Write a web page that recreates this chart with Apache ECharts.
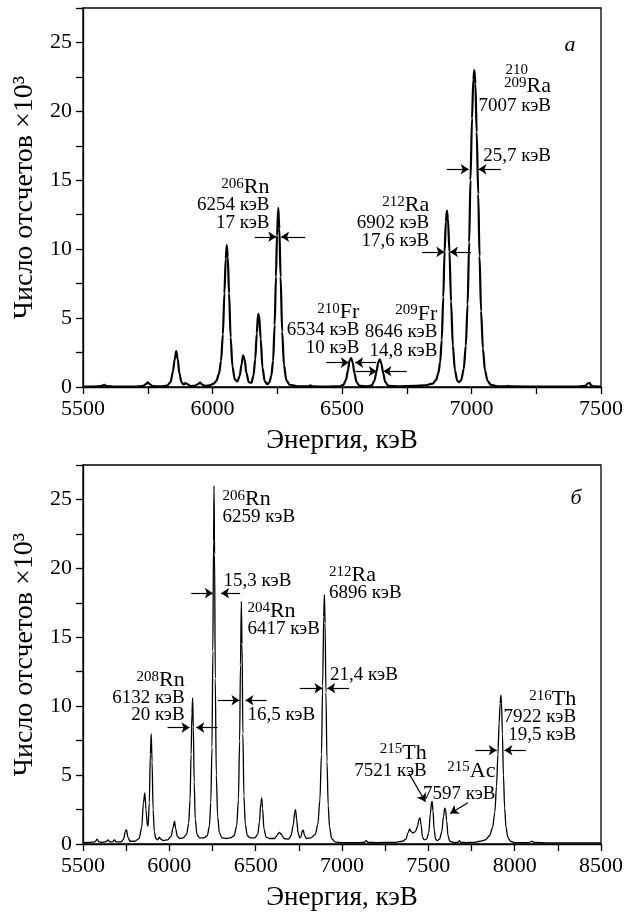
<!DOCTYPE html>
<html>
<head>
<meta charset="utf-8">
<script src="https://cdn.jsdelivr.net/npm/echarts@6/dist/echarts.min.js"></script>
<style>
  html, body { margin: 0; padding: 0; background: #fff; }
  #main { width: 626px; height: 916px; }
</style>
</head>
<body>
<div id="main"></div>
<script>
// спектр (а): энергия, кэВ / число отсчетов x10^3
const spectrumA = [
  [5500,0.03],[5560,0.04],[5572,0.08],[5582,0.15],[5592,0.06],[5620,0.03],[5700,0.03],[5730,0.06],
  [5742,0.2],[5750,0.33],[5758,0.2],[5770,0.06],[5800,0.04],[5825,0.1],[5838,0.35],[5847,1.1],
  [5854,2.0],[5860,2.6],[5866,2.0],[5872,1.0],[5880,0.35],[5888,0.18],[5896,0.28],[5904,0.2],
  [5915,0.07],[5930,0.08],[5943,0.2],[5952,0.32],[5960,0.18],[5972,0.08],[5990,0.12],[6005,0.25],
  [6015,0.45],[6025,0.95],[6033,1.9],[6040,3.8],[6046,6.8],[6051,9.3],[6055,10.3],[6059,9.4],
  [6064,6.8],[6070,3.6],[6077,1.5],[6086,0.55],[6096,0.4],[6105,0.8],[6112,1.6],[6118,2.3],
  [6124,2.0],[6131,1.0],[6140,0.35],[6150,0.3],[6158,0.8],[6165,2.0],[6171,3.9],[6176,5.3],
  [6180,5.2],[6186,3.5],[6193,1.4],[6202,0.4],[6212,0.2],[6220,0.35],[6227,0.8],[6234,1.9],
  [6240,4.5],[6245,8.0],[6249,11.0],[6254,13.0],[6258,11.5],[6263,8.0],[6269,4.0],[6276,1.6],
  [6285,0.5],[6298,0.15],[6330,0.05],[6370,0.04],[6378,0.12],[6386,0.04],[6450,0.03],[6490,0.05],
  [6505,0.15],[6515,0.5],[6523,1.2],[6529,1.9],[6535,2.1],[6541,1.8],[6548,1.0],[6556,0.35],
  [6568,0.08],[6600,0.05],[6615,0.12],[6625,0.45],[6633,1.1],[6640,1.8],[6646,2.0],[6652,1.7],
  [6659,1.0],[6667,0.35],[6680,0.08],[6720,0.05],[6780,0.08],[6820,0.12],[6850,0.25],[6863,0.5],
  [6872,1.0],[6879,1.8],[6885,3.4],[6891,6.5],[6896,9.8],[6901,12.0],[6905,12.8],[6909,12.2],
  [6915,9.8],[6921,6.2],[6928,3.0],[6936,1.2],[6945,0.45],[6952,0.35],[6960,0.5],[6970,1.3],
  [6978,3.0],[6985,6.0],[6991,10.5],[6996,15.0],[7002,19.5],[7007,22.3],[7011,23.0],[7015,22.0],
  [7020,18.5],[7026,14.0],[7031,9.5],[7037,5.5],[7044,2.8],[7052,1.2],[7062,0.45],[7075,0.15],
  [7100,0.05],[7135,0.04],[7142,0.08],[7150,0.04],[7300,0.03],[7400,0.03],[7440,0.08],[7448,0.25],
  [7455,0.3],[7462,0.12],[7470,0.04],[7500,0.03]
];

// спектр (б)
const spectrumB = [
  [5500,0.1],[5540,0.12],[5570,0.15],[5582,0.35],[5592,0.15],[5615,0.12],[5635,0.18],[5645,0.3],
  [5655,0.15],[5670,0.15],[5682,0.3],[5692,0.15],[5720,0.15],[5735,0.35],[5745,0.9],[5752,1.05],
  [5760,0.5],[5772,0.2],[5800,0.2],[5825,0.4],[5840,1.2],[5850,3.0],[5858,3.7],[5865,2.5],
  [5872,1.4],[5877,1.3],[5884,3.0],[5890,6.5],[5895,8.0],[5900,6.0],[5906,2.5],[5913,0.9],
  [5922,0.4],[5932,0.3],[5942,0.5],[5950,0.35],[5965,0.25],[5990,0.3],[6010,0.55],[6022,1.2],
  [6030,1.65],[6037,1.1],[6046,0.55],[6060,0.4],[6080,0.45],[6100,0.7],[6112,1.5],[6120,3.2],
  [6126,6.5],[6131,9.5],[6135,10.6],[6139,8.5],[6144,4.5],[6150,1.8],[6160,0.7],[6175,0.45],
  [6200,0.45],[6220,0.6],[6232,1.3],[6240,3.0],[6247,7.0],[6252,14.0],[6256,22.0],[6259,26.0],
  [6262,21.0],[6266,12.0],[6272,5.0],[6280,2.0],[6290,0.8],[6305,0.45],[6330,0.4],[6355,0.45],
  [6375,0.6],[6390,1.3],[6400,3.2],[6407,7.5],[6412,13.0],[6417,17.6],[6421,14.5],[6426,8.0],
  [6432,3.5],[6440,1.4],[6452,0.6],[6470,0.45],[6495,0.45],[6512,0.7],[6522,1.6],[6530,3.0],
  [6535,3.35],[6540,2.6],[6548,1.1],[6560,0.5],[6580,0.4],[6610,0.4],[6625,0.65],[6637,0.85],
  [6648,0.7],[6665,0.4],[6690,0.35],[6705,0.6],[6718,1.4],[6726,2.3],[6731,2.5],[6737,1.8],
  [6746,0.8],[6755,0.45],[6762,0.5],[6770,0.95],[6776,1.0],[6783,0.6],[6795,0.4],[6820,0.45],
  [6845,0.7],[6860,1.4],[6872,3.2],[6881,6.5],[6888,11.5],[6894,16.5],[6898,18.1],[6902,16.0],
  [6907,11.0],[6913,6.0],[6920,2.8],[6928,1.2],[6940,0.4],[6960,0.15],[7000,0.1],[7100,0.1],
  [7130,0.12],[7140,0.25],[7150,0.12],[7200,0.1],[7300,0.12],[7350,0.2],[7370,0.35],[7382,0.8],
  [7392,1.1],[7400,0.9],[7412,0.8],[7425,0.9],[7438,1.3],[7446,1.8],[7452,1.9],[7458,1.4],
  [7466,0.5],[7476,0.3],[7490,0.35],[7502,0.8],[7512,2.2],[7518,3.0],[7522,3.1],[7527,2.4],
  [7534,1.0],[7542,0.35],[7552,0.25],[7565,0.35],[7578,0.9],[7588,2.0],[7595,2.6],[7600,2.5],
  [7606,1.7],[7614,0.6],[7624,0.2],[7650,0.1],[7672,0.12],[7680,0.25],[7688,0.12],[7720,0.1],
  [7760,0.12],[7800,0.2],[7830,0.3],[7855,0.6],[7872,1.2],[7885,2.3],[7895,4.2],[7903,6.5],
  [7910,8.8],[7916,10.2],[7920,10.8],[7924,10.2],[7929,8.0],[7935,5.0],[7942,2.6],[7950,1.2],
  [7960,0.5],[7975,0.2],[8000,0.1],[8080,0.1],[8092,0.15],[8100,0.2],[8110,0.12],[8200,0.08],
  [8500,0.08]
];

// стрелки ширины на полувысоте: [x1, y1, x2, y2] (острие в конце)
const arrowsA = [
  [6163,10.9,6246,10.9],[6358,10.9,6265,10.9],
  [6809,9.8,6895,9.8],[6998,9.8,6917,9.8],
  [6904,15.8,6989,15.8],[7113,15.8,7027,15.8],
  [6439,1.77,6526,1.77],[6632,1.77,6551,1.77],
  [6551,1.14,6634,1.14],[6750,1.14,6660,1.14]
];
const arrowsB = [
  [5990,8.45,6117,8.45],[6279,8.45,6156,8.45],
  [6127,18.2,6252,18.2],[6410,18.2,6300,18.2],
  [6281,10.43,6406,10.43],[6563,10.43,6441,10.43],
  [6756,11.3,6887,11.3],[7041,11.3,6915,11.3],
  [7772,6.8,7896,6.8],[8064,6.8,7941,6.8],
  [7387,5.14,7483,3.07],[7729,2.99,7627,2.22]
];

// подписи: привязка [E, y], строки
const labelsA = [
  { at: [6220, 14.5], align: 'right', gap: 18, lines: ['{s|206}{e|Rn}', '6254 кэВ', '17 кэВ'] },
  { at: [6837, 13.2], align: 'right', gap: 18, lines: ['{s|212}{e|Ra}', '6902 кэВ', '17,6 кэВ'] },
  { at: [6567, 5.4], align: 'right', gap: 17.5, lines: ['{s|210}{e|Fr}', '6534 кэВ', '10 кэВ'] },
  { at: [6868, 5.3], align: 'right', gap: 18.5, lines: ['{s|209}{e|Fr}', '8646 кэВ', '14,8 кэВ'] },
  { at: [7307, 21.8], align: 'right', gap: 19.5, lines: ['{s|209}{e|Ra}', '7007 кэВ'] },
  { at: [7045, 16.75], align: 'left', gap: 18, lines: ['25,7 кэВ'] }
];
const labelsB = [
  { at: [6308, 25.0], align: 'left', gap: 17.5, lines: ['{s|206}{e|Rn}', '6259 кэВ'] },
  { at: [6314, 19.1], align: 'left', gap: 18, lines: ['15,3 кэВ'] },
  { at: [6452, 16.9], align: 'left', gap: 18, lines: ['{s|204}{e|Rn}', '6417 кэВ'] },
  { at: [6452, 9.35], align: 'left', gap: 18, lines: ['16,5 кэВ'] },
  { at: [6925, 19.5], align: 'left', gap: 17.5, lines: ['{s|212}{e|Ra}', '6896 кэВ'] },
  { at: [6931, 12.25], align: 'left', gap: 18, lines: ['21,4 кэВ'] },
  { at: [6089, 11.85], align: 'right', gap: 17, lines: ['{s|208}{e|Rn}', '6132 кэВ', '20 кэВ'] },
  { at: [7491, 6.6], align: 'right', gap: 17.5, lines: ['{s|215}{e|Th}', '7521 кэВ'] },
  { at: [7889, 5.3], align: 'right', gap: 23, lines: ['{s|215}{e|Ac}', '7597 кэВ'] },
  { at: [8356, 10.5], align: 'right', gap: 18, lines: ['{s|216}{e|Th}', '7922 кэВ', '19,5 кэВ'] }
];

const FONT = "'Liberation Serif', 'DejaVu Serif', serif";
const chart = echarts.init(document.getElementById('main'));

function xAxisCfg(grid, max) {
  return {
    type: 'value', gridIndex: grid, min: 5500, max: max, interval: 250,
    name: 'Энергия, кэВ', nameLocation: 'middle', nameGap: 40,
    nameTextStyle: { fontFamily: FONT, fontSize: 27, color: '#000' },
    axisLine: { onZero: false, lineStyle: { color: '#000', width: 1.3 } },
    axisTick: { length: 7, lineStyle: { color: '#000', width: 1.3 } },
    axisLabel: {
      fontFamily: FONT, fontSize: 22, color: '#000', margin: 11,
      formatter: v => (v % 500 === 0 ? String(v) : '')
    },
    splitLine: { show: false }
  };
}
function yAxisCfg(grid) {
  return {
    type: 'value', gridIndex: grid, min: 0, max: 27.5, interval: 2.5,
    name: 'Число отсчетов ×10³', nameLocation: 'middle', nameGap: 44,
    nameTextStyle: { fontFamily: FONT, fontSize: 28, color: '#000' },
    axisLine: { lineStyle: { color: '#000', width: 1.3 } },
    axisTick: { length: 7, lineStyle: { color: '#000', width: 1.3 } },
    axisLabel: {
      fontFamily: FONT, fontSize: 22, color: '#000', margin: 11,
      formatter: v => (v % 5 === 0 ? String(v) : '')
    },
    splitLine: { show: false }
  };
}
function arrowLines(list) {
  return {
    silent: true, animation: false,
    symbol: ['none', 'arrow'], symbolSize: 8,
    label: { show: false },
    lineStyle: { color: '#000', width: 1.2, type: 'solid' },
    itemStyle: { color: '#000' },
    emphasis: { disabled: true },
    data: list.map(a => [{ coord: [a[0], a[1]] }, { coord: [a[2], a[3]] }])
  };
}

const option = {
  animation: false,
  backgroundColor: '#fff',
  grid: [
    { left: 83, width: 519, top: 8, height: 379, show: true, borderColor: '#000', borderWidth: 1.3 },
    { left: 83, width: 519, top: 465, height: 379, show: true, borderColor: '#000', borderWidth: 1.3 }
  ],
  xAxis: [xAxisCfg(0, 7500), xAxisCfg(1, 8500)],
  yAxis: [yAxisCfg(0), yAxisCfg(1)],
  series: [
    {
      type: 'line', xAxisIndex: 0, yAxisIndex: 0, data: spectrumA,
      showSymbol: false, smooth: 0.3, smoothMonotone: 'x',
      lineStyle: { color: '#000', width: 2.2 },
      markLine: arrowLines(arrowsA)
    },
    {
      type: 'line', xAxisIndex: 1, yAxisIndex: 1, data: spectrumB,
      showSymbol: false, smooth: 0.3, smoothMonotone: 'x',
      lineStyle: { color: '#000', width: 1.3 },
      markLine: arrowLines(arrowsB)
    }
  ]
};
chart.setOption(option);

const rich = {
  s: { fontFamily: FONT, fontSize: 15, verticalAlign: 'top', lineHeight: 22 },
  e: { fontFamily: FONT, fontSize: 22, lineHeight: 22 }
};
function textEl(x, y, text, align, extra) {
  return Object.assign({
    type: 'text', x: x, y: y, silent: true,
    style: {
      text: text, fill: '#000', fontFamily: FONT, fontSize: 19,
      align: align, verticalAlign: 'middle', rich: rich
    }
  }, extra || {});
}

const graphics = [];
[[0, labelsA], [1, labelsB]].forEach(([grid, list]) => {
  list.forEach(b => {
    const p = chart.convertToPixel({ gridIndex: grid }, b.at);
    b.lines.forEach((t, i) => graphics.push(textEl(p[0], p[1] + i * b.gap, t, b.align)));
  });
});
// верхний индекс 210 над 209 у Ra
const pRa = chart.convertToPixel({ gridIndex: 0 }, [7307, 21.8]);
graphics.push(textEl(pRa[0] - 23, pRa[1] - 16, '210', 'right', { style: {
  text: '210', fill: '#000', fontFamily: FONT, fontSize: 15, align: 'right', verticalAlign: 'middle' } }));
// буквы панелей
const pa = chart.convertToPixel({ gridIndex: 0 }, [7380, 24.8]);
const pb = chart.convertToPixel({ gridIndex: 1 }, [8356, 25.1]);
graphics.push(textEl(pa[0], pa[1], 'а', 'center', { style: {
  text: 'а', fill: '#000', fontFamily: FONT, fontSize: 22, fontStyle: 'italic', align: 'center', verticalAlign: 'middle' } }));
graphics.push(textEl(pb[0], pb[1], 'б', 'center', { style: {
  text: 'б', fill: '#000', fontFamily: FONT, fontSize: 22, fontStyle: 'italic', align: 'center', verticalAlign: 'middle' } }));

chart.setOption({ graphic: graphics });
</script>
</body>
</html>
